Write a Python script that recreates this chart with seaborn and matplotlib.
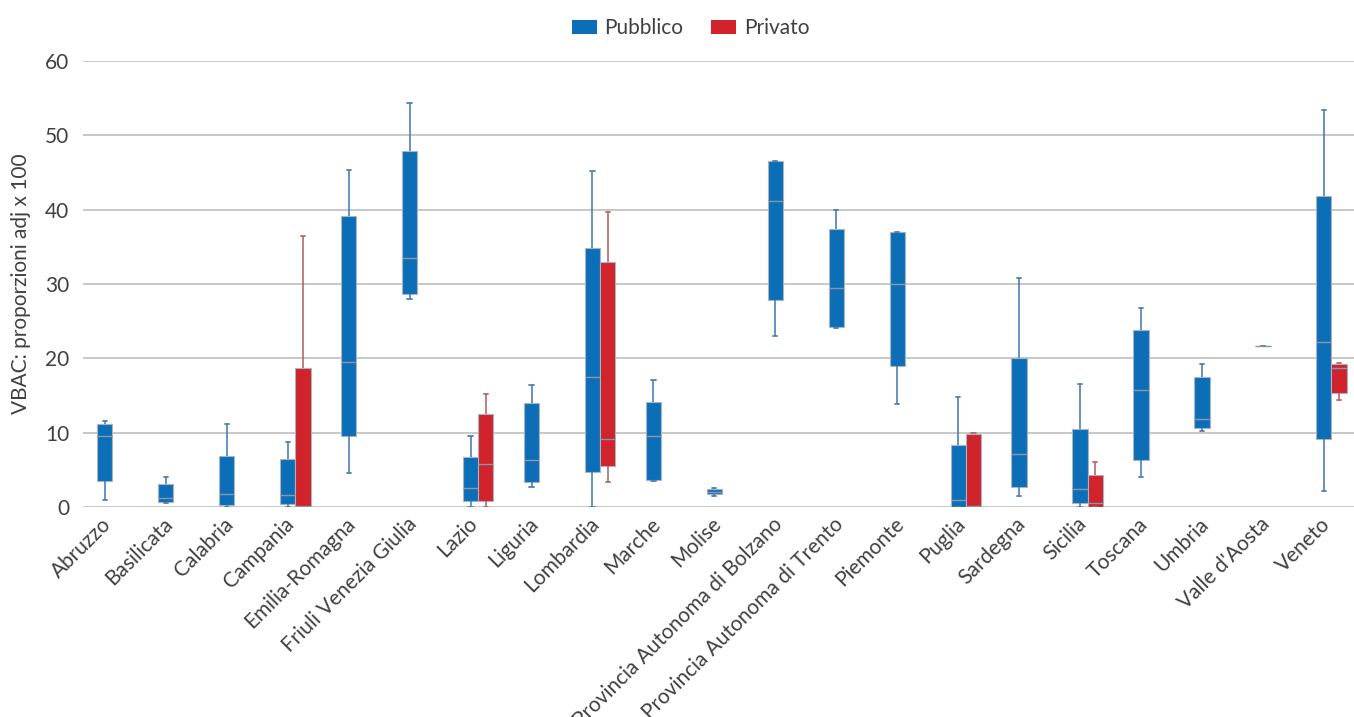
import numpy as np
import pandas as pd
import matplotlib
matplotlib.use("Agg")
import matplotlib.pyplot as plt
import matplotlib.transforms as mtransforms
from matplotlib.patches import Patch
import seaborn as sns

regions = ["Abruzzo", "Basilicata", "Calabria", "Campania", "Emilia-Romagna",
           "Friuli Venezia Giulia", "Lazio", "Liguria", "Lombardia", "Marche",
           "Molise", "Provincia Autonoma di Bolzano", "Provincia Autonoma di Trento",
           "Piemonte", "Puglia", "Sardegna", "Sicilia", "Toscana", "Umbria",
           "Valle d'Aosta", "Veneto"]

# five-number summaries (min, Q1, median, Q3, max)
pubblico = {
    "Abruzzo": [0.9, 3.45, 9.6, 11.1, 11.6],
    "Basilicata": [0.5, 0.7, 1.2, 3.1, 4.1],
    "Calabria": [0.0, 0.3, 1.8, 6.8, 11.1],
    "Campania": [0.0, 0.4, 1.6, 6.4, 8.8],
    "Emilia-Romagna": [4.6, 9.5, 19.5, 39.1, 45.3],
    "Friuli Venezia Giulia": [28.0, 28.7, 33.5, 47.9, 54.4],
    "Lazio": [0.0, 0.8, 2.6, 6.7, 9.6],
    "Liguria": [2.65, 3.4, 6.3, 14.0, 16.4],
    "Lombardia": [0.0, 4.7, 17.5, 34.9, 45.2],
    "Marche": [3.45, 3.6, 9.5, 14.1, 17.1],
    "Molise": [1.5, 1.7, 2.05, 2.4, 2.55],
    "Provincia Autonoma di Bolzano": [23.0, 27.9, 41.1, 46.5, 46.6],
    "Provincia Autonoma di Trento": [24.1, 24.2, 29.4, 37.35, 40.0],
    "Piemonte": [13.9, 18.9, 30.0, 36.95, 36.95],
    "Puglia": [0.0, 0.0, 0.9, 8.4, 14.8],
    "Sardegna": [1.5, 2.65, 7.1, 20.0, 30.8],
    "Sicilia": [0.0, 0.6, 2.4, 10.45, 16.5],
    "Toscana": [4.0, 6.3, 15.7, 23.8, 26.8],
    "Umbria": [10.2, 10.6, 11.8, 17.45, 19.3],
    "Valle d'Aosta": [21.7, 21.7, 21.7, 21.7, 21.7],
    "Veneto": [2.15, 9.1, 22.15, 41.9, 53.4],
}
privato = {
    "Campania": [0.0, 0.0, 0.2, 18.7, 36.5],
    "Lazio": [0.0, 0.85, 5.8, 12.5, 15.2],
    "Lombardia": [3.3, 5.5, 9.1, 32.9, 39.7],
    "Puglia": [0.0, 0.15, 0.2, 9.85, 9.9],
    "Sicilia": [0.0, 0.0, 0.6, 4.35, 6.1],
    "Veneto": [14.35, 15.4, 18.65, 19.2, 19.35],
}

types = ["Pubblico", "Privato"]
fill_colors = {"Pubblico": "#0d6eb8", "Privato": "#d0232b"}
whisker_colors = {"Pubblico": "#4f7fb4", "Privato": "#b36a6c"}

rows = []
for t, d in (("Pubblico", pubblico), ("Privato", privato)):
    for reg, vals in d.items():
        for v in vals:
            rows.append({"regione": reg, "tipo": t, "valore": v})
df = pd.DataFrame(rows)

sns.set_theme(style="white")
plt.rcParams["font.family"] = ["Lato", "DejaVu Sans"]

fig = plt.figure(figsize=(13.54, 7.17), dpi=100)
ax = fig.add_axes([0.0613, 0.2929, 0.9387, 0.6221])

for t in types:
    sub = df[df["tipo"] == t]
    sns.boxplot(data=sub, x="regione", y="valore", hue="tipo",
                order=regions, hue_order=types, palette=fill_colors,
                dodge=True, saturation=1,
                width=0.5, gap=0, whis=(0, 100), showfliers=False,
                linecolor=whisker_colors[t], linewidth=1.2,
                capwidths=0.07,
                boxprops={"edgecolor": "#a9b4c2", "linewidth": 0.8},
                medianprops={"color": "#8a97a8", "linewidth": 1.0},
                whiskerprops={"color": whisker_colors[t], "linewidth": 1.2},
                capprops={"color": whisker_colors[t], "linewidth": 1.3},
                legend=False, ax=ax)

ax.set_ylim(0, 60)
ax.set_xlim(-0.484, 20.37)
ax.set_yticks(range(0, 61, 10))
ax.yaxis.grid(True, color="#c8c8c8", linewidth=1.4)
ax.set_axisbelow(True)
for s in ax.spines.values():
    s.set_visible(False)
ax.tick_params(axis="both", length=0, labelsize=15, labelcolor="#404040")
ax.tick_params(axis="y", pad=10)
ax.set_xlabel("")
ax.set_ylabel("VBAC: proporzioni adj x 100", fontsize=15, color="#404040", labelpad=10)
offset = mtransforms.ScaledTranslation(-11 / 100, -2 / 100, fig.dpi_scale_trans)
for lbl in ax.get_xticklabels():
    lbl.set_rotation(45)
    lbl.set_ha("right")
    lbl.set_rotation_mode("anchor")
    lbl.set_transform(lbl.get_transform() + offset)

handles = [Patch(facecolor=fill_colors[t], edgecolor="none", label=t) for t in types]
fig.legend(handles=handles, loc="center", bbox_to_anchor=(0.51, 0.961), ncol=2,
           frameon=False, fontsize=15, handlelength=1.2, handleheight=0.67,
           columnspacing=1.35, handletextpad=0.35, labelcolor="#404040")

fig.savefig("out.png", dpi=100)
